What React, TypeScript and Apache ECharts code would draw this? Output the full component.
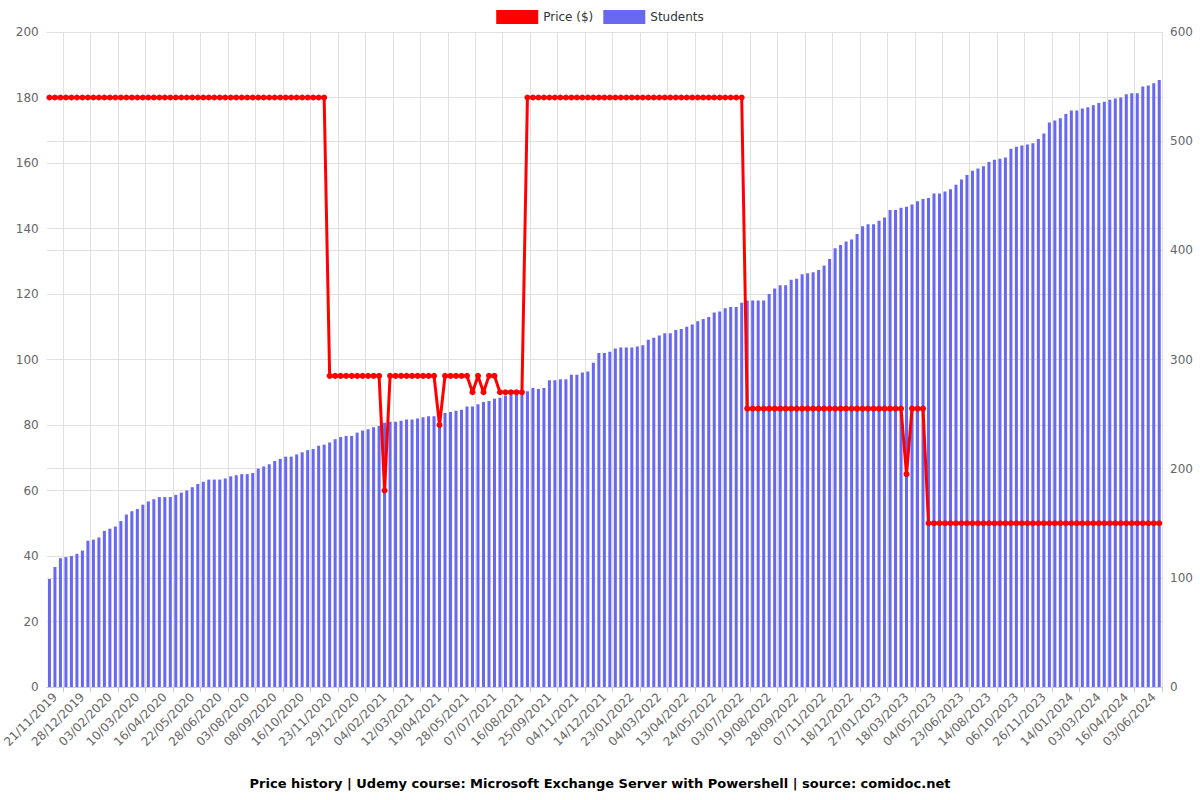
import React, { useEffect, useRef } from "react";
import * as echarts from "echarts";

const dates: string[] = [
  "14/11/2019",
  "21/11/2019","28/11/2019","05/12/2019","13/12/2019","20/12/2019",
  "28/12/2019","04/01/2020","12/01/2020","19/01/2020","27/01/2020",
  "03/02/2020","10/02/2020","17/02/2020","24/02/2020","02/03/2020",
  "10/03/2020","17/03/2020","24/03/2020","01/04/2020","08/04/2020",
  "16/04/2020","23/04/2020","30/04/2020","07/05/2020","14/05/2020",
  "22/05/2020","29/05/2020","05/06/2020","13/06/2020","20/06/2020",
  "28/06/2020","05/07/2020","12/07/2020","19/07/2020","26/07/2020",
  "03/08/2020","10/08/2020","17/08/2020","24/08/2020","31/08/2020",
  "08/09/2020","15/09/2020","23/09/2020","30/09/2020","08/10/2020",
  "16/10/2020","23/10/2020","31/10/2020","08/11/2020","15/11/2020",
  "23/11/2020","30/11/2020","07/12/2020","14/12/2020","21/12/2020",
  "29/12/2020","05/01/2021","13/01/2021","20/01/2021","28/01/2021",
  "04/02/2021","11/02/2021","18/02/2021","25/02/2021","04/03/2021",
  "12/03/2021","19/03/2021","27/03/2021","04/04/2021","11/04/2021",
  "19/04/2021","27/04/2021","05/05/2021","13/05/2021","20/05/2021",
  "28/05/2021","05/06/2021","13/06/2021","21/06/2021","29/06/2021",
  "07/07/2021","15/07/2021","23/07/2021","31/07/2021","08/08/2021",
  "16/08/2021","24/08/2021","01/09/2021","09/09/2021","17/09/2021",
  "25/09/2021","03/10/2021","11/10/2021","19/10/2021","27/10/2021",
  "04/11/2021","12/11/2021","20/11/2021","28/11/2021","06/12/2021",
  "14/12/2021","22/12/2021","30/12/2021","07/01/2022","15/01/2022",
  "23/01/2022","31/01/2022","08/02/2022","16/02/2022","24/02/2022",
  "04/03/2022","12/03/2022","20/03/2022","28/03/2022","05/04/2022",
  "13/04/2022","21/04/2022","29/04/2022","08/05/2022","16/05/2022",
  "24/05/2022","01/06/2022","09/06/2022","17/06/2022","25/06/2022",
  "03/07/2022","12/07/2022","21/07/2022","01/08/2022","10/08/2022",
  "19/08/2022","27/08/2022","04/09/2022","12/09/2022","20/09/2022",
  "28/09/2022","06/10/2022","14/10/2022","22/10/2022","30/10/2022",
  "07/11/2022","15/11/2022","23/11/2022","02/12/2022","10/12/2022",
  "18/12/2022","26/12/2022","03/01/2023","11/01/2023","19/01/2023",
  "27/01/2023","06/02/2023","16/02/2023","26/02/2023","08/03/2023",
  "18/03/2023","27/03/2023","05/04/2023","16/04/2023","25/04/2023",
  "04/05/2023","14/05/2023","24/05/2023","03/06/2023","13/06/2023",
  "23/06/2023","03/07/2023","13/07/2023","24/07/2023","03/08/2023",
  "14/08/2023","25/08/2023","04/09/2023","15/09/2023","25/09/2023",
  "06/10/2023","16/10/2023","26/10/2023","05/11/2023","16/11/2023",
  "26/11/2023","06/12/2023","16/12/2023","25/12/2023","04/01/2024",
  "14/01/2024","24/01/2024","03/02/2024","13/02/2024","22/02/2024",
  "03/03/2024","12/03/2024","20/03/2024","29/03/2024","07/04/2024",
  "16/04/2024","26/04/2024","05/05/2024","15/05/2024","24/05/2024",
  "03/06/2024","08/06/2024"
];

const price: number[] = [
  180,180,180,180,180,180,180,180,180,180,
  180,180,180,180,180,180,180,180,180,180,
  180,180,180,180,180,180,180,180,180,180,
  180,180,180,180,180,180,180,180,180,180,
  180,180,180,180,180,180,180,180,180,180,
  180,95,95,95,95,95,95,95,95,95,
  95,60,95,95,95,95,95,95,95,95,
  95,80,95,95,95,95,95,90,95,90,
  95,95,90,90,90,90,90,180,180,180,
  180,180,180,180,180,180,180,180,180,180,
  180,180,180,180,180,180,180,180,180,180,
  180,180,180,180,180,180,180,180,180,180,
  180,180,180,180,180,180,180,85,85,85,
  85,85,85,85,85,85,85,85,85,85,
  85,85,85,85,85,85,85,85,85,85,
  85,85,85,85,85,85,65,85,85,85,
  50,50,50,50,50,50,50,50,50,50,
  50,50,50,50,50,50,50,50,50,50,
  50,50,50,50,50,50,50,50,50,50,
  50,50,50,50,50,50,50,50,50,50,
  50,50,50
];

const students: number[] = [
  99,110,118,119,120,122,125,134,135,137,
  143,145,147,152,158,161,163,167,170,172,
  174,174,174,176,178,180,183,186,188,190,
  190,190,191,193,194,195,195,196,200,202,
  204,207,209,211,211,213,215,217,218,221,
  222,224,227,229,230,230,233,235,236,238,
  239,242,243,243,244,245,245,246,247,248,
  248,248,251,252,253,254,257,257,259,261,
  262,264,265,267,268,269,270,271,274,273,
  274,281,281,282,282,286,286,288,289,297,
  306,306,307,310,311,311,311,312,313,318,
  320,322,324,324,327,328,330,332,335,337,
  339,343,344,347,348,348,352,354,354,354,
  354,360,365,368,368,373,374,378,379,380,
  382,386,392,402,405,408,410,415,422,424,
  424,427,430,437,437,439,440,442,445,447,
  448,452,452,454,456,460,465,469,473,475,
  477,481,483,484,485,493,495,496,497,498,
  502,507,517,519,521,525,528,528,530,531,
  533,535,536,538,539,540,543,544,544,550,
  551,553,556
];

const priceTicks = [0, 20, 40, 60, 80, 100, 120, 140, 160, 180, 200];
const studentTicks = [0, 100, 200, 300, 400, 500, 600];
const titleText =
  "Price history | Udemy course: Microsoft Exchange Server with Powershell | source: comidoc.net";

export default function App() {
  const ref = useRef<HTMLDivElement>(null);
  useEffect(() => {
    if (!ref.current) return;
    const chart = echarts.init(ref.current, undefined, { renderer: "svg" });
    const font = "DejaVu Sans";
    const tickEvery = (i: number) => i % 5 === 3;
    const labelEvery = (i: number) => i % 5 === 1;
    chart.setOption({
      animation: false,
      textStyle: { fontFamily: font },
      title: {
        text: titleText,
        left: "center",
        top: 772,
        textStyle: { fontSize: 13, fontWeight: "bold", color: "#000", fontFamily: font },
      },
      legend: {
        top: 5,
        left: "center",
        itemWidth: 42,
        itemHeight: 14,
        itemGap: 10,
        textStyle: { fontSize: 12, color: "#333", fontFamily: font },
        data: [
          { name: "Price ($)", icon: "rect" },
          { name: "Students", icon: "rect" },
        ],
      },
      grid: {
        left: 46.7,
        right: 38,
        top: 32,
        bottom: 113,
        containLabel: false,
        outerBoundsMode: "none",
      },
      xAxis: {
        type: "category",
        data: dates,
        boundaryGap: true,
        axisLine: { lineStyle: { color: "#ccc" } },
        axisTick: { show: true, lineStyle: { color: "#ccc" }, interval: tickEvery },
        axisLabel: { rotate: 45, interval: labelEvery, color: "#666", fontSize: 12, fontFamily: font },
        splitLine: { show: true, interval: tickEvery, lineStyle: { color: "#e0e0e0" } },
      },
      yAxis: [
        {
          type: "value",
          min: priceTicks[0],
          max: priceTicks[priceTicks.length - 1],
          interval: 20,
          axisLine: { show: false },
          axisTick: { show: false },
          axisLabel: { color: "#666", fontSize: 12, fontFamily: font },
          splitLine: { lineStyle: { color: "#e0e0e0" } },
        },
        {
          type: "value",
          min: studentTicks[0],
          max: studentTicks[studentTicks.length - 1],
          interval: 100,
          axisLine: { show: false },
          axisTick: { show: false },
          axisLabel: { color: "#666", fontSize: 12, fontFamily: font },
          splitLine: { lineStyle: { color: "#e0e0e0" } },
        },
      ],
      series: [
        {
          name: "Price ($)",
          type: "line",
          yAxisIndex: 0,
          data: price,
          color: "#ff0000",
          symbol: "circle",
          symbolSize: 6,
          showAllSymbol: true,
          lineStyle: { width: 3, color: "#ff0000" },
          itemStyle: { color: "#ff0000" },
          z: 3,
        },
        {
          name: "Students",
          type: "bar",
          yAxisIndex: 1,
          data: students,
          color: "#6666ee",
          barWidth: "55%",
          itemStyle: { color: "#6868f0" },
          z: 2,
        },
      ],
    });
    return () => chart.dispose();
  }, []);
  return (
    <div style={{ position: "fixed", left: 0, top: 0, width: 1200, height: 800, background: "#fff" }}>
      <div ref={ref} style={{ width: 1200, height: 800 }} />
    </div>
  );
}
